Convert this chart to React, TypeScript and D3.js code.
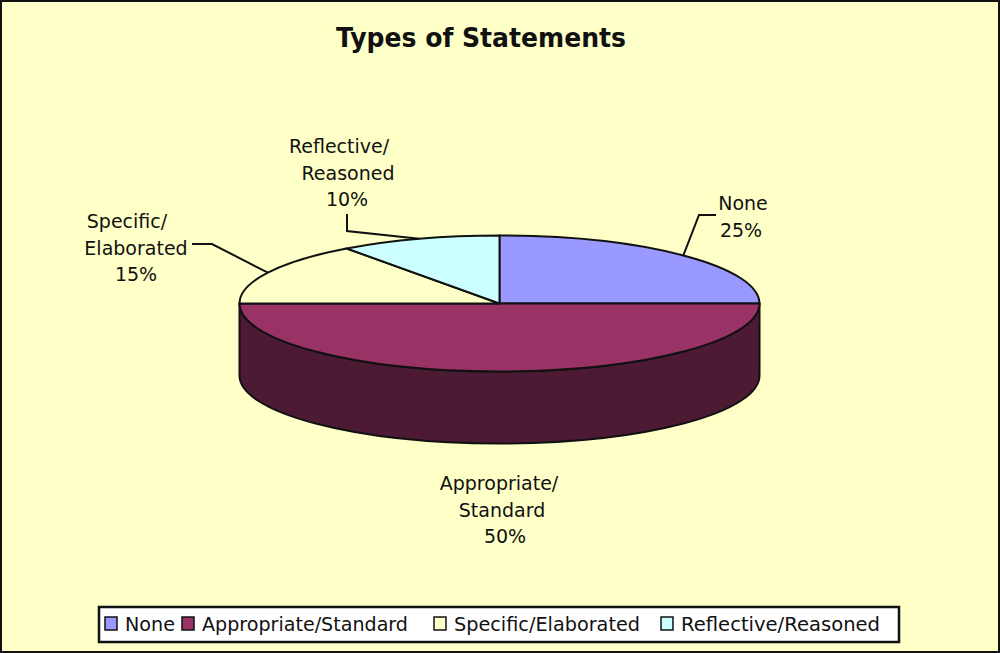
import React from 'react';
import * as d3 from 'd3';

const categories = ['None', 'Appropriate/Standard', 'Specific/Elaborated', 'Reflective/Reasoned'];
const values = [25, 50, 15, 10];
const colors = ['#9999FF', '#993366', '#FFFFC8', '#CCFFFF'];
const labelLines = [['None', '25%'], ['Appropriate/', 'Standard', '50%'], ['Specific/', 'Elaborated', '15%'], ['Reflective/', 'Reasoned', '10%']];

const W = 1000;
const H = 653;
const cx = 499.5;
const cy = 303.5;
const rx = 260;
const ry = 68;
const depth = 72;
const wallColor = '#4D1A33';
const font = '"DejaVu Sans", sans-serif';
const ink = '#111';

// label text anchor (centre x of each text line, first baseline)
const labelPos = [
  { y: 210, lines: [743, 741] },
  { y: 490, lines: [499, 502, 505] },
  { y: 228, lines: [127, 136, 136] },
  { y: 153, lines: [339, 348, 347] },
];
// leader elbows, the last point is added from the slice's mid angle
const leaders = [
  [[716, 215], [699, 215]],
  [],
  [[192, 244], [212, 244]],
  [[347, 214], [347, 231]],
];
const legendX = [105, 182, 434, 661];
const legendTextWidth = [50, 206, 186, 199];

export default function App() {
  const pie = d3.pie<number>().sort(null)(values);
  const arc = d3.arc<d3.PieArcDatum<number>>().innerRadius(0).outerRadius(rx);
  const edge = (a: number): [number, number] => [cx + rx * Math.sin(a), cy - ry * Math.cos(a)];
  const line = d3.line();

  const [lx, ly] = edge(Math.PI / 2);
  const [tx, ty] = edge(-Math.PI / 2);
  const wall = `M${lx},${ly} A${rx},${ry} 0 0 1 ${tx},${ty} L${tx},${ty + depth} A${rx},${ry} 0 0 0 ${lx},${ly + depth} Z`;

  return (
    <svg width={W} height={H} viewBox={`0 0 ${W} ${H}`} style={{ position: 'absolute', left: 0, top: 0, display: 'block' }} fontFamily={font}>
      <rect x={1} y={1} width={W - 2} height={H - 2} fill="#FFFFC8" stroke="#111" strokeWidth={2} />
      <text x={481} y={47} textAnchor="middle" fontSize={26} fontWeight="bold" fill={ink} textLength={290} lengthAdjust="spacingAndGlyphs">Types of Statements</text>

      <path d={wall} fill={wallColor} stroke="#111" strokeWidth={2} />
      <g transform={`translate(${cx},${cy}) scale(1,${ry / rx})`}>
        {pie.map((d, i) => (
          <path key={categories[i]} d={arc(d) || ''} fill={colors[i]} stroke="#111" strokeWidth={2} vectorEffect="non-scaling-stroke" />
        ))}
      </g>

      {pie.map((d, i) => {
        if (!leaders[i].length) return null;
        const end = edge((d.startAngle + d.endAngle) / 2);
        return <path key={i} d={line([...leaders[i], end] as [number, number][]) || ''} fill="none" stroke="#111" strokeWidth={2} />;
      })}

      {labelLines.map((lines, i) => (
        <text key={i} textAnchor="middle" fontSize={19} fill={ink}>
          {lines.map((t, j) => (
            <tspan key={j} x={labelPos[i].lines[j]} y={labelPos[i].y + j * 26.5}>{t}</tspan>
          ))}
        </text>
      ))}

      <rect x={99} y={607} width={800} height={35} fill="#fff" stroke="#111" strokeWidth={2.5} />
      {categories.map((c, i) => (
        <g key={c} transform={`translate(${legendX[i]},0)`}>
          <rect x={0} y={617} width={12} height={13} fill={colors[i]} stroke="#111" strokeWidth={1.5} />
          <text x={20} y={631} fontSize={19} fill={ink} textLength={legendTextWidth[i]} lengthAdjust="spacingAndGlyphs">{c}</text>
        </g>
      ))}
    </svg>
  );
}
